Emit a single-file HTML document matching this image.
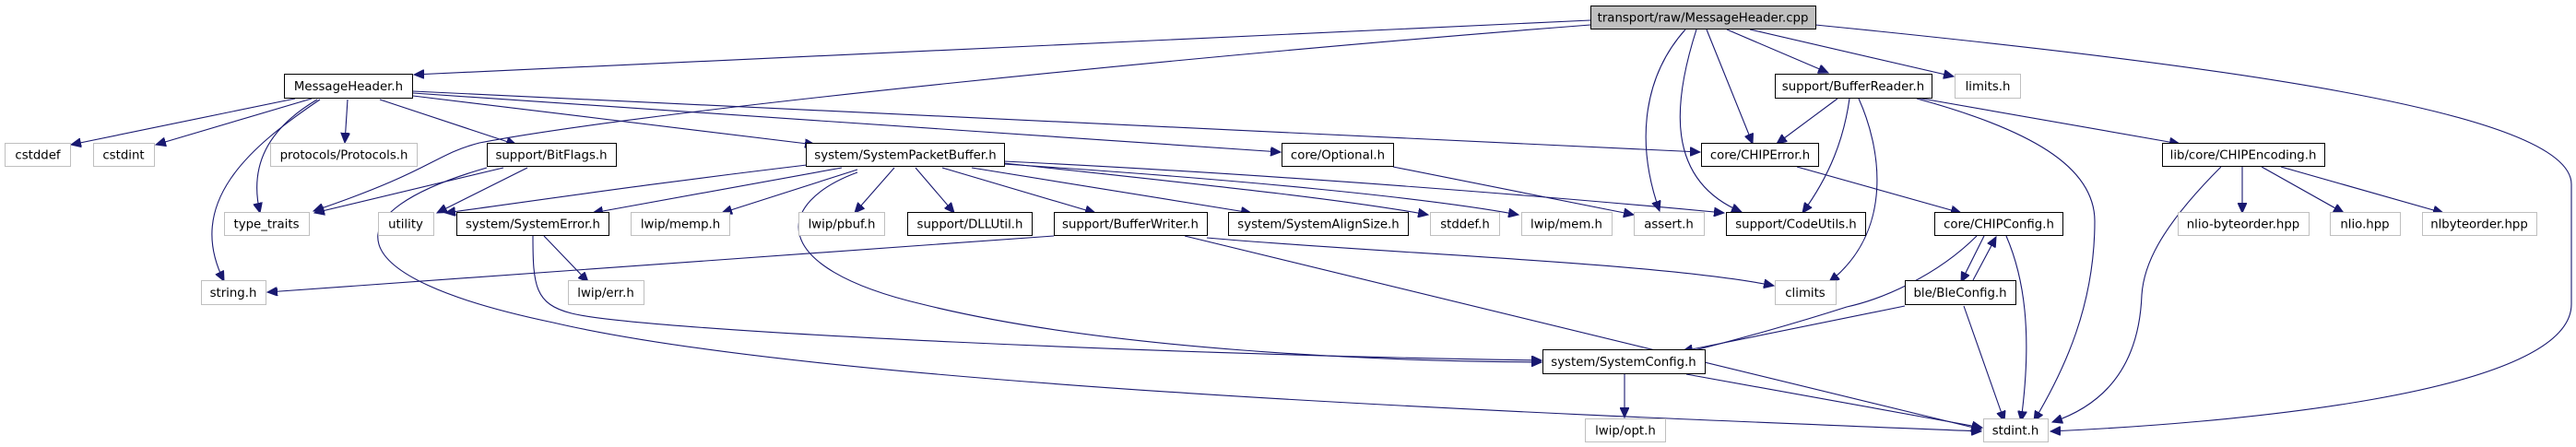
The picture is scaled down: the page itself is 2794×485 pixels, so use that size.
<!DOCTYPE html>
<html><head><meta charset="utf-8"><style>
html,body{margin:0;padding:0;background:#fff;}
svg{display:block;}
text{font-family:"DejaVu Sans","Liberation Sans",sans-serif;font-size:13.3px;fill:#000;text-anchor:middle;}
.e{fill:none;stroke:#191970;stroke-width:1.1;marker-end:url(#a);}
.g{fill:#fff;stroke:#bfbfbf;stroke-width:1;}
.b{fill:#fff;stroke:#000;stroke-width:1;}
</style></head><body>
<svg width="2794" height="485" viewBox="0 0 2794 485" xmlns="http://www.w3.org/2000/svg">
<defs><marker id="a" markerUnits="userSpaceOnUse" markerWidth="12" markerHeight="10" refX="11" refY="5" orient="auto"><path d="M0,0 L11,5 L0,10 z" fill="#191970" stroke="#191970"/></marker></defs>
<!-- edges -->
<path class="e" d="M1725,22 L449,81"/>
<path class="e" d="M1725,27 C1300,60 700,120 520,155 C470,168 470,185 340,229"/>
<path class="e" d="M1828,32 C1785,80 1772,150 1800,229"/>
<path class="e" d="M1840,32 C1815,110 1805,195 1889,230"/>
<path class="e" d="M1851,32 L1901,156"/>
<path class="e" d="M1873,32 L1983,79"/>
<path class="e" d="M1898,32 L2119,83"/>
<path class="e" d="M1969,27 C2400,70 2789,120 2789,200 L2789,330 C2789,430 2400,460 2224,468"/>
<path class="e" d="M320,107 L77,157"/>
<path class="e" d="M338,107 L169,157"/>
<path class="e" d="M344,108 C290,140 270,180 282,231"/>
<path class="e" d="M347,108 C270,160 200,220 243,305"/>
<path class="e" d="M377,108 L374,155"/>
<path class="e" d="M412,108 L560,157"/>
<path class="e" d="M448,104 L884,157"/>
<path class="e" d="M448,99 L1844,165"/>
<path class="e" d="M448,101 L1389,165"/>
<path class="e" d="M546,182 L341,231"/>
<path class="e" d="M572,182 L474,231"/>
<path class="e" d="M528,182 C360,230 360,300 600,350 C900,420 1700,450 2149,468"/>
<path class="e" d="M875,179 C700,200 600,215 483,231"/>
<path class="e" d="M913,182 L643,231"/>
<path class="e" d="M930,184 L783,231"/>
<path class="e" d="M970,182 L927,231"/>
<path class="e" d="M993,182 L1035,231"/>
<path class="e" d="M1022,182 L1188,231"/>
<path class="e" d="M1054,182 L1357,231"/>
<path class="e" d="M1089,177 C1300,200 1450,215 1549,233"/>
<path class="e" d="M1089,178 C1350,195 1550,215 1647,233"/>
<path class="e" d="M1089,175 C1400,190 1700,215 1870,231"/>
<path class="e" d="M930,187 C840,220 830,290 1000,330 C1200,380 1500,392 1672,393"/>
<path class="e" d="M590,256 L638,306"/>
<path class="e" d="M578,256 C578,310 580,330 620,340 C700,360 1300,386 1672,391"/>
<path class="e" d="M1143,256 L290,317"/>
<path class="e" d="M1285,256 L2149,466"/>
<path class="e" d="M1309,258 C1500,275 1800,285 1924,310"/>
<path class="e" d="M1511,181 L1772,233"/>
<path class="e" d="M1949,181 L2127,231"/>
<path class="e" d="M1993,107 L1927,156"/>
<path class="e" d="M2006,107 C2000,150 1985,190 1955,231"/>
<path class="e" d="M2016,107 C2040,160 2055,250 1984,306"/>
<path class="e" d="M2079,107 C2200,140 2272,180 2272,240 C2272,330 2240,400 2206,457"/>
<path class="e" d="M2079,106 L2364,156"/>
<path class="e" d="M2409,181 C2340,250 2325,290 2323,320 C2320,400 2280,440 2226,458"/>
<path class="e" d="M2432,181 L2432,231"/>
<path class="e" d="M2453,181 L2542,231"/>
<path class="e" d="M2474,181 L2650,231"/>
<path class="e" d="M2152,256 L2127,306"/>
<path class="e" d="M2144,256 C2100,300 2040,325 2003,333 C1950,350 1880,370 1822,384"/>
<path class="e" d="M2176,256 C2195,300 2205,360 2192,457"/>
<path class="e" d="M2140,304 L2165,257"/>
<path class="e" d="M2066,332 L1825,381"/>
<path class="e" d="M2130,332 L2174,457"/>
<path class="e" d="M1762,406 L1762,453"/>
<path class="e" d="M1829,406 L2150,464"/>
<!-- nodes -->
<rect x="1725.5" y="6.5" width="244" height="25" fill="#bfbfbf" stroke="#000"/><text x="1847" y="23.5">transport/raw/MessageHeader.cpp</text>
<rect class="b" x="308.5" y="80.5" width="139" height="26"/><text x="378" y="98">MessageHeader.h</text>
<rect class="b" x="1925.5" y="80.5" width="170" height="26"/><text x="2010" y="98">support/BufferReader.h</text>
<rect class="g" x="2120.5" y="80.5" width="71" height="26"/><text x="2156" y="98">limits.h</text>
<rect class="g" x="5.5" y="155.5" width="71" height="25"/><text x="41" y="172.5">cstddef</text>
<rect class="g" x="101.5" y="155.5" width="66" height="25"/><text x="134" y="172.5">cstdint</text>
<rect class="g" x="293.5" y="155.5" width="159" height="25"/><text x="373" y="172.5">protocols/Protocols.h</text>
<rect class="b" x="528.5" y="155.5" width="140" height="25"/><text x="598" y="172.5">support/BitFlags.h</text>
<rect class="b" x="874.5" y="155.5" width="215" height="25"/><text x="982" y="172.5">system/SystemPacketBuffer.h</text>
<rect class="b" x="1390.5" y="155.5" width="121" height="25"/><text x="1451" y="172.5">core/Optional.h</text>
<rect class="b" x="1845.5" y="155.5" width="127" height="25"/><text x="1909" y="172.5">core/CHIPError.h</text>
<rect class="b" x="2345.5" y="155.5" width="176" height="25"/><text x="2433" y="172.5">lib/core/CHIPEncoding.h</text>
<rect class="g" x="243.5" y="230.5" width="92" height="25"/><text x="289" y="247.5">type_traits</text>
<rect class="g" x="410.5" y="230.5" width="60" height="25"/><text x="440" y="247.5">utility</text>
<rect class="b" x="495.5" y="230.5" width="165" height="25"/><text x="578" y="247.5">system/SystemError.h</text>
<rect class="g" x="684.5" y="230.5" width="107" height="25"/><text x="738" y="247.5">lwip/memp.h</text>
<rect class="g" x="866.5" y="230.5" width="93" height="25"/><text x="913" y="247.5">lwip/pbuf.h</text>
<rect class="b" x="984.5" y="230.5" width="135" height="25"/><text x="1052" y="247.5">support/DLLUtil.h</text>
<rect class="b" x="1143.5" y="230.5" width="166" height="25"/><text x="1226" y="247.5">support/BufferWriter.h</text>
<rect class="b" x="1332.5" y="230.5" width="195" height="25"/><text x="1430" y="247.5">system/SystemAlignSize.h</text>
<rect class="g" x="1551.5" y="230.5" width="75" height="25"/><text x="1589" y="247.5">stddef.h</text>
<rect class="g" x="1650.5" y="230.5" width="98" height="25"/><text x="1699" y="247.5">lwip/mem.h</text>
<rect class="g" x="1772.5" y="230.5" width="76" height="25"/><text x="1810" y="247.5">assert.h</text>
<rect class="b" x="1872.5" y="230.5" width="151" height="25"/><text x="1948" y="247.5">support/CodeUtils.h</text>
<rect class="b" x="2098.5" y="230.5" width="139" height="25"/><text x="2168" y="247.5">core/CHIPConfig.h</text>
<rect class="g" x="2362.5" y="230.5" width="142" height="25"/><text x="2433" y="247.5">nlio-byteorder.hpp</text>
<rect class="g" x="2527.5" y="230.5" width="76" height="25"/><text x="2565" y="247.5">nlio.hpp</text>
<rect class="g" x="2627.5" y="230.5" width="124" height="25"/><text x="2689" y="247.5">nlbyteorder.hpp</text>
<rect class="g" x="218.5" y="304.5" width="70" height="26"/><text x="253" y="322">string.h</text>
<rect class="g" x="616.5" y="304.5" width="82" height="26"/><text x="657" y="322">lwip/err.h</text>
<rect class="g" x="1925.5" y="304.5" width="66" height="26"/><text x="1958" y="322">climits</text>
<rect class="b" x="2066.5" y="304.5" width="120" height="26"/><text x="2126" y="322">ble/BleConfig.h</text>
<rect class="b" x="1673.5" y="379.5" width="176" height="26"/><text x="1761" y="397">system/SystemConfig.h</text>
<rect class="g" x="1719.5" y="454.5" width="87" height="25"/><text x="1763" y="471.5">lwip/opt.h</text>
<rect class="g" x="2151.5" y="454.5" width="70" height="25"/><text x="2186" y="471.5">stdint.h</text>
</svg>
</body></html>
